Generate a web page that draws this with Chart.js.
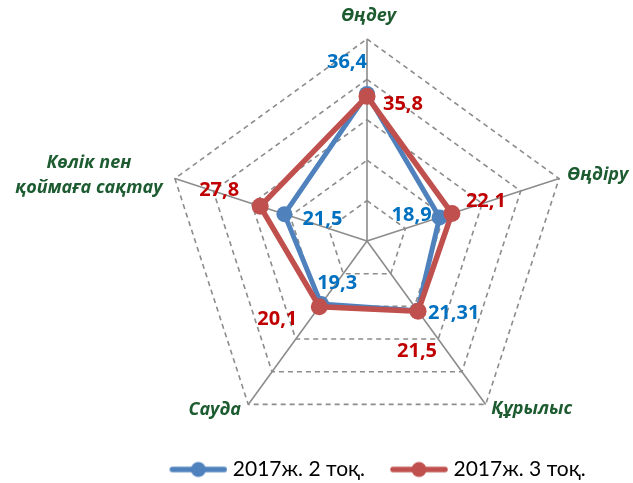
<!DOCTYPE html>
<html>
<head>
<meta charset="utf-8">
<script src="https://cdn.jsdelivr.net/npm/chart.js@4/dist/chart.umd.min.js"></script>
<style>
  html, body { margin: 0; padding: 0; background: #ffffff; }
  #wrap { width: 633px; height: 483px; position: relative; }
</style>
</head>
<body>
<div id="wrap"><canvas id="radar"></canvas></div>
<script>
// Sectors on the radar axes (multi-line entries are drawn line by line)
const categories = ['Өңдеу', 'Өңдіру', 'Құрылыс', 'Сауда', ['Көлік пен', 'қоймаға сақтау']];
const seriesNames = ['2017ж. 2 тоқ.', '2017ж. 3 тоқ.'];
const q2Values = [36.4, 18.9, 21.31, 19.3, 21.5];
const q3Values = [35.8, 22.1, 21.5, 20.1, 27.8];
const scaleMin = 0;
const scaleMax = 50;
const scaleStep = 10;

// Styling
const BLUE = '#4F81BD', RED = '#C0504D';
const BLUE_TEXT = '#0070C0', RED_TEXT = '#C00000';
const GREEN_TEXT = '#1D5B30';
const FONT = 'Lato, "Open Sans", sans-serif';
const BOLD_FONT = '"Open Sans", Lato, sans-serif';

// Where each value label sits relative to its point (px)
const q2LabelOffsets = [[-20, -32], [-28, -2], [36, 3], [16, -21], [38, 5]];
const q3LabelOffsets = [[36, 8], [34, -12], [-1, 40], [-42, 13], [-41, -16]];
// Where each axis title sits relative to the outer vertex (px)
const axisTitleOffsets = [[1.5, -23], [38.6, -4], [46, 4.6], [-33.6, 5.6], [-86, -3.6]];

const fmt = v => String(v).replace('.', ',');

// Legend swatch: a line with a round marker
function makeSwatch(color) {
  const c = document.createElement('canvas');
  c.width = 60; c.height = 20;
  const g = c.getContext('2d');
  g.strokeStyle = color;
  g.lineWidth = 5.5;
  g.lineCap = 'round';
  g.beginPath(); g.moveTo(5, 10); g.lineTo(57, 10); g.stroke();
  g.fillStyle = color;
  g.beginPath(); g.arc(31, 10, 7.5, 0, Math.PI * 2); g.fill();
  return c;
}

const axisTitles = {
  id: 'axisTitles',
  afterDraw(chart) {
    const scale = chart.scales.r;
    const ctx = chart.ctx;
    ctx.save();
    ctx.fillStyle = GREEN_TEXT;
    ctx.font = 'italic bold 18px ' + BOLD_FONT;
    ctx.textAlign = 'center';
    ctx.textBaseline = 'middle';
    chart.data.labels.forEach((lab, i) => {
      const p = scale.getPointPosition(i, scale.drawingArea);
      const [dx, dy] = axisTitleOffsets[i];
      const lines = Array.isArray(lab) ? lab : [lab];
      const lh = 25;
      lines.forEach((t, k) => {
        const y = p.y + dy + (k - (lines.length - 1) / 2) * lh;
        ctx.fillText(t, p.x + dx, y);
      });
    });
    ctx.restore();
  }
};

const valueLabels = {
  id: 'valueLabels',
  afterDatasetsDraw(chart) {
    const ctx = chart.ctx;
    const offsets = [q2LabelOffsets, q3LabelOffsets];
    const colors = [BLUE_TEXT, RED_TEXT];
    ctx.save();
    ctx.font = 'bold 20px ' + BOLD_FONT;
    ctx.textAlign = 'center';
    ctx.textBaseline = 'middle';
    chart.data.datasets.forEach((ds, di) => {
      const meta = chart.getDatasetMeta(di);
      ctx.fillStyle = colors[di];
      meta.data.forEach((pt, j) => {
        const [dx, dy] = offsets[di][j];
        ctx.fillText(fmt(ds.data[j]), pt.x + dx, pt.y + dy);
      });
    });
    ctx.restore();
  }
};

new Chart(document.getElementById('radar'), {
  type: 'radar',
  data: {
    labels: categories,
    datasets: [
      {
        label: seriesNames[0], data: q2Values, order: 2,
        borderColor: BLUE, backgroundColor: BLUE, fill: false, borderWidth: 5,
        pointRadius: 8, pointBackgroundColor: BLUE, pointBorderWidth: 0,
        pointStyle: 'circle'
      },
      {
        label: seriesNames[1], data: q3Values, order: 1,
        borderColor: RED, backgroundColor: RED, fill: false, borderWidth: 5.5,
        pointRadius: 8.5, pointBackgroundColor: RED, pointBorderWidth: 0,
        pointStyle: 'circle'
      }
    ]
  },
  options: {
    responsive: true,
    maintainAspectRatio: false,
    animation: false,
    devicePixelRatio: 1,
    layout: { padding: { left: 125, right: 0, top: 0, bottom: -7 } },
    elements: { line: { tension: 0, borderJoinStyle: 'round' } },
    scales: {
      r: {
        min: scaleMin, max: scaleMax,
        ticks: { stepSize: scaleStep, display: false },
        pointLabels: { display: false },
        grid: { color: '#8C8C8C', lineWidth: 1.6, borderDash: [5, 4] },
        border: { dash: [5, 4] },
        angleLines: { color: '#8C8C8C', lineWidth: 1.6 },
        afterFit(scale) {
          scale.xCenter = 367;
          scale.yCenter = 241;
          scale.drawingArea = 202;
        }
      }
    },
    plugins: {
      tooltip: { enabled: false },
      legend: {
        position: 'bottom',
        labels: {
          usePointStyle: true,
          pointStyleWidth: 50,
          padding: 28,
          color: '#000000',
          font: { family: FONT, size: 21 },
          sort: (a, b) => a.datasetIndex - b.datasetIndex,
          generateLabels(chart) {
            return chart.data.datasets.map((ds, i) => ({
              text: ds.label,
              pointStyle: makeSwatch(ds.borderColor),
              fillStyle: ds.borderColor,
              strokeStyle: ds.borderColor,
              lineWidth: 0,
              hidden: false,
              datasetIndex: i,
              fontColor: '#000000'
            }));
          }
        }
      }
    }
  },
  plugins: [axisTitles, valueLabels]
});
</script>
</body>
</html>
